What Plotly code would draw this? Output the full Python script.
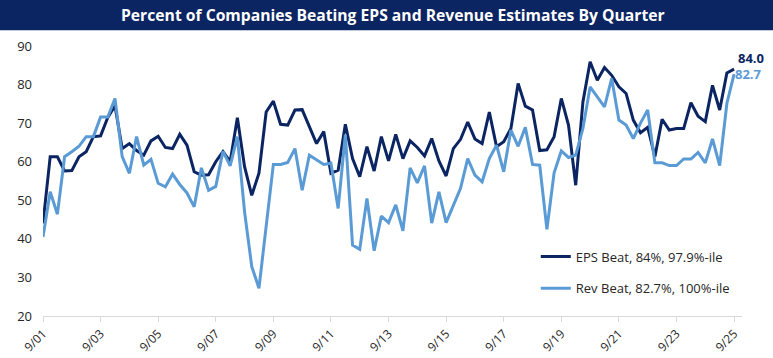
import plotly.graph_objects as go

tick_labels = ["9/01", "9/03", "9/05", "9/07", "9/09", "9/11", "9/13",
               "9/15", "9/17", "9/19", "9/21", "9/23", "9/25"]

eps_beat = [44.0, 61.3, 61.3, 57.6, 57.7, 61.3, 62.6, 66.5, 66.7, 71.5,
            74.5, 63.4, 64.7, 62.9, 61.7, 65.4, 66.6, 63.7, 63.4, 67.1,
            64.3, 57.4, 56.5, 56.6, 60.0, 62.6, 60.0, 71.4, 58.7, 51.3,
            57.0, 72.9, 75.7, 69.7, 69.5, 73.4, 73.5, 68.9, 64.7, 67.8,
            57.0, 57.8, 69.7, 60.8, 56.1, 63.9, 57.6, 66.5, 60.2, 67.1,
            60.8, 65.4, 63.7, 61.5, 66.0, 60.2, 56.3, 63.4, 65.8, 70.3,
            65.9, 64.7, 72.9, 63.9, 65.2, 68.6, 80.3, 74.4, 73.4, 62.9,
            63.1, 66.5, 76.4, 69.5, 53.9, 75.5, 85.9, 81.1, 84.4, 82.4,
            79.4, 77.7, 70.8, 67.5, 68.9, 61.3, 71.0, 68.2, 68.6, 68.6,
            75.3, 71.8, 70.4, 79.8, 73.4, 83.0, 84.0]

rev_beat = [40.5, 52.2, 46.4, 61.3, 62.6, 64.0, 66.5, 66.5, 71.6, 71.6,
            76.4, 61.3, 57.0, 66.5, 59.1, 60.6, 54.4, 53.5, 56.8, 54.1,
            51.9, 48.3, 58.4, 52.6, 53.6, 62.7, 58.9, 66.5, 47.0, 32.8,
            27.2, 43.1, 59.3, 59.3, 59.8, 63.4, 52.6, 61.7, 60.4, 59.3,
            59.6, 47.9, 67.0, 38.4, 37.3, 50.5, 36.9, 45.9, 44.2, 48.8,
            42.1, 58.4, 54.5, 58.9, 44.1, 52.2, 44.2, 48.8, 53.1, 60.8,
            56.5, 54.8, 60.8, 64.3, 57.4, 68.2, 64.0, 68.9, 59.3, 59.1,
            42.5, 57.1, 62.8, 61.1, 61.7, 68.6, 79.4, 76.8, 74.2, 81.6,
            70.8, 69.5, 66.0, 70.0, 73.4, 59.7, 59.7, 59.0, 59.0, 60.7,
            60.7, 62.4, 59.7, 65.9, 59.0, 75.1, 82.7]

series_names = ["EPS Beat, 84%, 97.9%-ile", "Rev Beat, 82.7%, 100%-ile"]

NAVY = "#0b2462"
LIGHT = "#5b9bd5"
FONT = "'Open Sans', Lato, sans-serif"

x_idx = list(range(len(eps_beat)))
tick_vals = list(range(0, len(eps_beat), 8))

fig = go.Figure()
fig.add_trace(go.Scatter(x=x_idx, y=eps_beat, mode="lines", name=series_names[0],
                         line=dict(color=NAVY, width=3), legendgroup="a"))
fig.add_trace(go.Scatter(x=x_idx, y=rev_beat, mode="lines", name=series_names[1],
                         line=dict(color=LIGHT, width=3), legendgroup="b"))

# end labels
fig.add_annotation(x=x_idx[-1], y=eps_beat[-1], text="<b>%.1f</b>" % eps_beat[-1],
                   showarrow=False, xanchor="left", yanchor="middle",
                   xshift=2, yshift=11, font=dict(color=NAVY, size=13, family=FONT))
fig.add_annotation(x=x_idx[-1], y=rev_beat[-1], text="<b>%.1f</b>" % rev_beat[-1],
                   showarrow=False, xanchor="left", yanchor="middle",
                   xshift=-1, yshift=0, font=dict(color=LIGHT, size=13, family=FONT))

# title bar
fig.add_shape(type="rect", xref="paper", yref="paper",
              x0=-0.07, x1=1.05, y0=1.058, y1=1.175,
              fillcolor=NAVY, line=dict(width=0), layer="below")
fig.add_annotation(xref="paper", yref="paper", x=0.5, y=1.116,
                   text="<b>Percent of Companies Beating EPS and Revenue Estimates By Quarter</b>",
                   showarrow=False, xanchor="center", yanchor="middle",
                   font=dict(color="white", size=15.7, family=FONT))

fig.update_layout(
    width=773, height=358,
    margin=dict(l=43, r=31, t=46, b=42, autoexpand=False),
    paper_bgcolor="white", plot_bgcolor="white",
    font=dict(family=FONT, color="#262626", size=13),
    showlegend=True,
    legend=dict(x=0.705, y=0.276, xanchor="left", yanchor="top",
                bgcolor="rgba(0,0,0,0)", tracegroupgap=12,
                font=dict(size=13, color="#262626", family=FONT),
                itemwidth=30),
)
fig.update_xaxes(range=[0, 97.1], tickmode="array", tickvals=tick_vals,
                 ticktext=tick_labels, tickangle=-45, showgrid=False,
                 showline=True, linecolor="#d9d9d9", linewidth=1,
                 ticks="outside", tickcolor="#d9d9d9", ticklen=5,
                 tickfont=dict(size=12, color="#262626"), zeroline=False,
                 automargin=False)
fig.update_yaxes(range=[20, 90], dtick=10, showgrid=False, showline=False,
                 zeroline=False, ticks="", ticklabelstandoff=10,
                 tickfont=dict(size=13, color="#262626"), automargin=False)

fig.write_html("out.html", config={"displayModeBar": False},
               post_script="document.body.style.margin='0';document.body.style.overflow='hidden';")
